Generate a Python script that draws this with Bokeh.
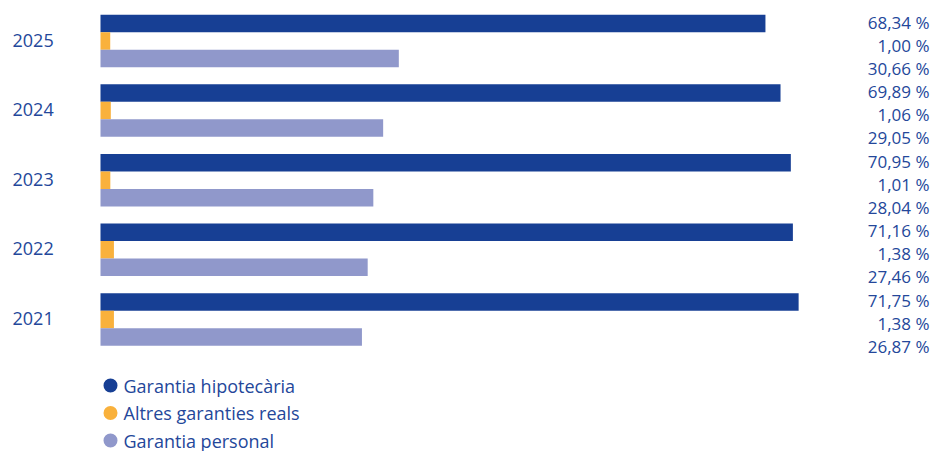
from bokeh.plotting import figure
from bokeh.models import Range1d, ColumnDataSource
from bokeh.core.properties import value
from bokeh.embed import file_html
from bokeh.resources import INLINE

years = ["2025", "2024", "2023", "2022", "2021"]
series = ["Garantia hipotecària", "Altres garanties reals", "Garantia personal"]
hipotecaria = [68.34, 69.89, 70.95, 71.16, 71.75]
altres = [1.00, 1.06, 1.01, 1.38, 1.38]
personal = [30.66, 29.05, 28.04, 27.46, 26.87]
colors = ["#173F94", "#F9B13C", "#9098CB"]
text_color = "#24479A"
font = "Open Sans"

W, H = 931, 451
PX_PER_UNIT = 9.73
X0_PX = 100
x_start = -X0_PX / PX_PER_UNIT
x_end = x_start + W / PX_PER_UNIT

p = figure(width=W, height=H, output_backend="svg", toolbar_location=None,
           x_range=Range1d(x_start, x_end), y_range=Range1d(H, 0),
           min_border=0, outline_line_color=None)
p.axis.visible = False
p.grid.visible = False
p.background_fill_color = "white"
p.border_fill_color = "white"

BAR_H = 17.5
GROUP0 = 23.0
PITCH = 69.6
all_vals = [hipotecaria, altres, personal]

for si, vals in enumerate(all_vals):
    ys = [GROUP0 + i * PITCH + si * BAR_H for i in range(len(years))]
    src = ColumnDataSource(dict(y=ys, right=vals))
    p.hbar(y="y", left=0, right="right", height=BAR_H, source=src,
           fill_color=colors[si], line_color=None)
    # value labels on the right
    lys = [GROUP0 - 1.5 + i * PITCH + si * 23 for i in range(len(years))]
    labels = [f"{v:.2f}".replace(".", ",") + " %" for v in vals]
    lsrc = ColumnDataSource(dict(y=lys, t=labels, x=[x_end - 2 / PX_PER_UNIT] * len(vals)))
    p.text(x="x", y="y", text="t", source=lsrc, text_align="right",
           text_baseline="middle", text_font=value(font), text_font_size="17px",
           text_color=text_color)

# year labels
yy = [GROUP0 + BAR_H + i * PITCH - 1 for i in range(len(years))]
ysrc = ColumnDataSource(dict(y=yy, t=years, x=[x_start + 12 / PX_PER_UNIT] * len(years)))
p.text(x="x", y="y", text="t", source=ysrc, text_align="left", text_baseline="middle",
       text_font=value(font), text_font_size="18px", text_color=text_color)

# legend
leg_y = [385 + 27.5 * i for i in range(len(series))]
lsrc = ColumnDataSource(dict(y=leg_y, c=colors, t=series,
                             x=[(110 - 100) / PX_PER_UNIT] * 3,
                             tx=[(123 - 100) / PX_PER_UNIT] * 3))
p.scatter(x="x", y="y", size=14, fill_color="c", line_color=None, source=lsrc)
p.text(x="tx", y="y", text="t", source=lsrc, text_align="left", text_baseline="middle",
       text_font=value(font), text_font_size="18px", text_color=text_color)

open("out.html", "w").write(file_html(p, INLINE))
